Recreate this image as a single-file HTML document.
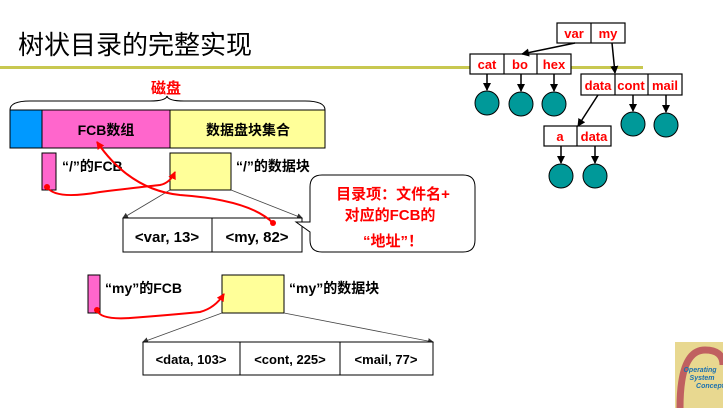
<!DOCTYPE html>
<html><head><meta charset="utf-8"><style>
body{margin:0;background:#fff;width:723px;height:408px;overflow:hidden}
svg{display:block}
text{font-family:"Liberation Sans","Noto Sans CJK SC",sans-serif;font-weight:bold}
</style></head><body>
<svg width="723" height="408" viewBox="0 0 723 408">
<defs>
<marker id="ak" markerWidth="8" markerHeight="8" refX="7" refY="4" orient="auto" markerUnits="userSpaceOnUse"><path d="M0,0 L8,4 L0,8 z" fill="#000"/></marker>
<marker id="ag" markerWidth="6" markerHeight="6" refX="5" refY="3" orient="auto" markerUnits="userSpaceOnUse"><path d="M0,0 L6,3 L0,6 z" fill="#333"/></marker>
<marker id="ar" markerWidth="8" markerHeight="8" refX="7" refY="4" orient="auto" markerUnits="userSpaceOnUse"><path d="M0,0 L8,4 L0,8 z" fill="#f00"/></marker>
</defs>
<text x="18" y="54" font-size="26" font-weight="normal" fill="#000" style="font-weight:normal">树状目录的完整实现</text>
<rect x="0" y="66" width="643" height="3" fill="#c8c850"/>
<!-- tree -->
<g stroke="#000" stroke-width="1.2" fill="none">
<rect x="557" y="23" width="68" height="20" fill="#fff"/><line x1="591" y1="23" x2="591" y2="43"/>
<rect x="470" y="54" width="101" height="20" fill="#fff"/><line x1="504" y1="54" x2="504" y2="74"/><line x1="537" y1="54" x2="537" y2="74"/>
<rect x="581" y="74" width="101" height="21" fill="#fff"/><line x1="615" y1="74" x2="615" y2="95"/><line x1="648" y1="74" x2="648" y2="95"/>
<rect x="544" y="126" width="67" height="20" fill="#fff"/><line x1="577" y1="126" x2="577" y2="146"/>
</g>
<g stroke="#000" stroke-width="1.5" marker-end="url(#ak)">
<line x1="575" y1="43" x2="522" y2="54"/><line x1="612" y1="43" x2="615" y2="73"/>
<line x1="598" y1="95" x2="578" y2="126"/>
<line x1="487" y1="74" x2="487" y2="90"/><line x1="521" y1="74" x2="521" y2="91"/><line x1="554" y1="74" x2="554" y2="91"/>
<line x1="633" y1="95" x2="633" y2="111"/><line x1="666" y1="95" x2="666" y2="112"/>
<line x1="561" y1="146" x2="561" y2="163"/><line x1="595" y1="146" x2="595" y2="163"/>
</g>
<g fill="#009999" stroke="#000" stroke-width="1">
<circle cx="487" cy="103" r="12"/><circle cx="521" cy="104" r="12"/><circle cx="554" cy="104" r="12"/>
<circle cx="633" cy="124" r="12"/><circle cx="666" cy="125" r="12"/>
<circle cx="561" cy="176" r="12"/><circle cx="595" cy="176" r="12"/>
</g>
<g font-size="13" fill="#f00" text-anchor="middle">
<text x="574" y="38">var</text><text x="608" y="38">my</text>
<text x="487" y="69">cat</text><text x="520" y="69">bo</text><text x="554" y="69">hex</text>
<text x="598" y="90">data</text><text x="631" y="90">cont</text><text x="665" y="90">mail</text>
<text x="560" y="141">a</text><text x="594" y="141">data</text>
</g>
<!-- disk -->
<text x="166" y="93" font-size="15" fill="#f00" text-anchor="middle">磁盘</text>
<path d="M10,110 Q10,101 30,101 L150,101 Q166,101 167,96 Q168,101 184,101 L305,101 Q325,101 325,110" fill="none" stroke="#000" stroke-width="1"/>
<rect x="10" y="110" width="32" height="38" fill="#0099ff" stroke="#000"/>
<rect x="42" y="110" width="128" height="38" fill="#ff66cc" stroke="#000"/>
<rect x="170" y="110" width="155" height="38" fill="#ffff99" stroke="#000"/>
<text x="106" y="135" font-size="14" text-anchor="middle">FCB数组</text>
<text x="248" y="135" font-size="14" text-anchor="middle">数据盘块集合</text>
<rect x="42" y="153" width="14" height="37" fill="#ff66cc" stroke="#000"/>
<text x="62" y="171" font-size="14">“/”的FCB</text>
<rect x="170" y="153" width="61" height="37" fill="#ffff99" stroke="#000"/>
<text x="236" y="171" font-size="14">“/”的数据块</text>
<g stroke="#444" stroke-width="0.8" marker-end="url(#ag)">
<line x1="170" y1="190" x2="123" y2="218"/><line x1="231" y1="190" x2="302" y2="218"/>
</g>
<rect x="123" y="218" width="179" height="34" fill="#fff" stroke="#000"/>
<line x1="212" y1="218" x2="212" y2="252" stroke="#000"/>
<text x="167" y="242" font-size="15" text-anchor="middle">&lt;var, 13&gt;</text>
<text x="257" y="242" font-size="15" text-anchor="middle">&lt;my, 82&gt;</text>
<path d="M322,175 L463,175 Q475,175 475,187 L475,240 Q475,252 463,252 L322,252 Q310,252 310,240 L310,232 L296,222 L310,222 L310,187 Q310,175 322,175 z" fill="#fff" stroke="#000"/>
<g font-size="15" fill="#f00" text-anchor="middle">
<text x="393" y="199">目录项：文件名+</text>
<text x="390" y="220">对应的FCB的</text>
<text x="393" y="246">“地址”！</text>
</g>
<g stroke="#f00" stroke-width="2" fill="none" marker-end="url(#ar)">
<path d="M47,187 Q55,200 100,192 Q150,186 160,185 Q170,183 175,172"/>
<path d="M273,223 Q250,200 180,195 Q130,190 97,142"/>
</g>
<circle cx="47" cy="187" r="3" fill="#f00"/><circle cx="273" cy="223" r="3" fill="#f00"/>
<!-- my -->
<rect x="88" y="275" width="12" height="38" fill="#ff66cc" stroke="#000"/>
<text x="105" y="293" font-size="14">“my”的FCB</text>
<rect x="222" y="275" width="62" height="38" fill="#ffff99" stroke="#000"/>
<text x="289" y="293" font-size="14">“my”的数据块</text>
<g stroke="#444" stroke-width="0.8" marker-end="url(#ag)">
<line x1="222" y1="313" x2="143" y2="342"/><line x1="284" y1="313" x2="433" y2="342"/>
</g>
<rect x="143" y="342" width="290" height="33" fill="#fff" stroke="#000"/>
<line x1="240" y1="342" x2="240" y2="375" stroke="#000"/><line x1="340" y1="342" x2="340" y2="375" stroke="#000"/>
<g font-size="13" text-anchor="middle">
<text x="191" y="364">&lt;data, 103&gt;</text><text x="290" y="364">&lt;cont, 225&gt;</text><text x="386" y="364">&lt;mail, 77&gt;</text>
</g>
<path d="M97,310 Q100,320 130,318 Q170,315 200,312 Q215,308 224,294" stroke="#f00" stroke-width="2" fill="none" marker-end="url(#ar)"/>
<circle cx="97" cy="310" r="3" fill="#f00"/>
<!-- book -->
<rect x="675" y="342" width="48" height="66" fill="#e8d890"/>
<path d="M680,408 Q680,350 705,350 Q723,350 723,365" stroke="#c06060" stroke-width="7" fill="none"/>
<text x="700" y="372" font-size="7" fill="#1a70b0" font-style="italic" text-anchor="middle">Operating</text>
<text x="702" y="380" font-size="7" fill="#1a70b0" font-style="italic" text-anchor="middle">System</text>
<text x="712" y="388" font-size="7" fill="#1a70b0" font-style="italic" text-anchor="middle">Concepts</text>
</svg>
</body></html>
